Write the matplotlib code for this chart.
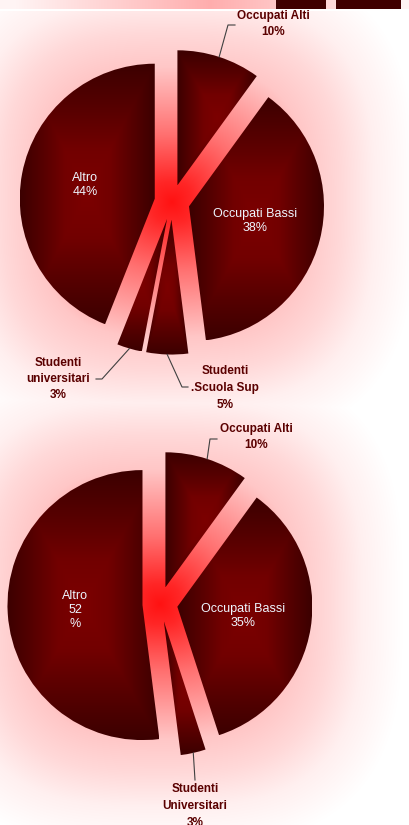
import numpy as np
import matplotlib
matplotlib.use("Agg")
import matplotlib.pyplot as plt
from matplotlib.colors import LinearSegmentedColormap

# dati dei due grafici a torta
top_labels = ["Occupati Alti", "Occupati Bassi", "Studenti\n.Scuola Sup", "Studenti\nuniversitari", "Altro"]
top_values = [10, 38, 5, 3, 44]
top_pct = ["10%", "38%", "5%", "3%", "44%"]

bottom_labels = ["Occupati Alti", "Occupati Bassi", "Studenti\nUniversitari", "Altro"]
bottom_values = [10, 35, 3, 52]
bottom_pct = ["10%", "35%", "3%", "52\n%"]

# pezzo del grafico precedente, tagliato in alto
prev_left = [276, 336]
prev_width = [50, 65]

W, H = 409, 825
R = 135

fig = plt.figure(figsize=(W / 100, H / 100), dpi=100)
ax = fig.add_axes([0, 0, 1, 1])

slice_cmap = LinearSegmentedColormap.from_list("fetta", ["#7c0000", "#720000", "#560000", "#3c0000"])


def glow(cx, cy, xx, yy):
    # alone rosso dietro la torta (coordinate immagine)
    dx = np.abs(xx - cx)
    dy = np.abs(yy - cy)
    t = (dx ** 3 + dy ** 3) ** (1 / 3) / R
    return np.interp(t, [0, 0.15, 0.5, 1.0, 1.25, 1.5, 1.8], [0.93, 0.85, 0.56, 0.22, 0.15, 0.06, 0.0])


def gradient_fill(w):
    cx, cy = w.center
    ang = np.radians(np.linspace(w.theta1, w.theta2, 200))
    px = np.concatenate([[cx], cx + w.r * np.cos(ang)])
    py = np.concatenate([[cy], cy + w.r * np.sin(ang)])
    x0, x1, y0, y1 = px.min(), px.max(), py.min(), py.max()
    gx, gy = np.meshgrid(np.linspace(-1, 1, 200), np.linspace(-1, 1, 200))
    d = np.maximum(np.abs(gx), np.abs(gy))
    im = ax.imshow(d, cmap=slice_cmap, vmin=0, vmax=1, extent=(x0, x1, y0, y1),
                   origin="lower", interpolation="bilinear", zorder=2)
    im.set_clip_path(w)
    w.set_facecolor("none")
    w.set_edgecolor("none")


def draw_pie(values, pct, labels, center, inside, outside):
    cx, cy = center
    wedges, _ = ax.pie(values, radius=R, center=(cx, H - cy), startangle=90, counterclock=False,
                       explode=[0.13 * R] * len(values), frame=True)
    for w in wedges:
        gradient_fill(w)
    for i, w in enumerate(wedges):
        txt = labels[i] + "\n" + pct[i]
        if i in inside:
            x, y = inside[i]
            ax.text(x, H - y, txt, ha="center", va="center", color="#eef6ff", fontsize=9,
                    family="Liberation Sans", linespacing=1.2, zorder=5)
        else:
            (x, y), (ex, ey), (fx, fy) = outside[i]
            mid = np.radians((w.theta1 + w.theta2) / 2)
            sx = w.center[0] + w.r * np.cos(mid)
            sy = w.center[1] + w.r * np.sin(mid)
            ax.plot([sx, ex, fx], [sy, H - ey, H - fy], color="#404040", lw=0.8, zorder=4)
            ax.text(x, H - y, txt, ha="center", va="center", color="#5a0000", fontsize=8.5,
                    fontweight="bold", family="Liberation Sans", linespacing=1.5, zorder=5)


# sfondo
xx, yy = np.meshgrid(np.arange(W) + 0.5, np.arange(H) + 0.5)
inten = np.maximum(glow(172, 202, xx, yy), glow(160, 604, xx, yy))
strip = yy < 9
inten[strip] = np.clip(0.32 - np.abs(xx[strip] - 210) / 700, 0.04, None)
inten[(yy >= 9) & (yy < 11)] = 0
bg = np.dstack([np.ones_like(inten), 1 - inten, 1 - inten])
ax.imshow(bg, extent=(0, W, 0, H), origin="upper", zorder=0, interpolation="bilinear")

ax.barh([H - 4], prev_width, left=prev_left, height=9, color="#400000", zorder=2)

draw_pie(top_values, top_pct, top_labels, (172, 202),
         inside={1: (255, 221), 4: (85, 185)},
         outside={0: ((273, 24), (228, 25), (235, 25)),
                  2: ((225, 388), (182, 387), (188, 387)),
                  3: ((58, 379), (102, 379), (96, 379))})

draw_pie(bottom_values, bottom_pct, bottom_labels, (160, 604),
         inside={1: (243, 616), 3: (75, 610)},
         outside={0: ((256, 437), (210, 439), (217, 439)),
                  2: ((195, 806), (195, 780), (195, 780))})

ax.set_xlim(0, W)
ax.set_ylim(0, H)
ax.set_aspect("equal")
ax.axis("off")

fig.savefig("out.png", dpi=100)
